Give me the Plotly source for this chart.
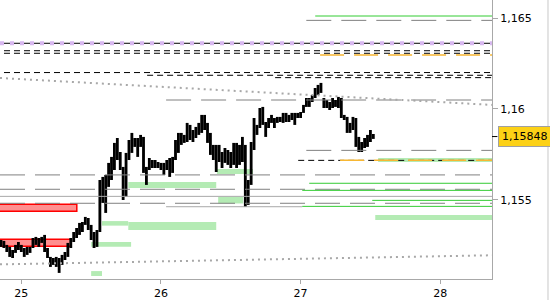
import plotly.graph_objects as go
import pandas as pd

# ---------------- price data (30-minute bars) ----------------
bar_times = pd.date_range("2021-06-24 20:30", periods=129, freq="30min")
bar_high = [
    1.15279, 1.15274, 1.15252, 1.15241, 1.15224, 1.15252, 1.15268, 1.15252, 1.15235, 1.15241,
    1.15241, 1.15290, 1.15296, 1.15290, 1.15296, 1.15307, 1.15235, 1.15186, 1.15180, 1.15186,
    1.15180, 1.15197, 1.15213, 1.15263, 1.15290, 1.15323, 1.15345, 1.15373, 1.15378, 1.15406,
    1.15400, 1.15362, 1.15323, 1.15334, 1.15609, 1.15626, 1.15637, 1.15703, 1.15736, 1.15813,
    1.15840, 1.15763, 1.15681, 1.15758, 1.15829, 1.15868, 1.15840, 1.15840, 1.15857, 1.15846,
    1.15681, 1.15730, 1.15719, 1.15719, 1.15708, 1.15703, 1.15703, 1.15719, 1.15730, 1.15736,
    1.15829, 1.15868, 1.15868, 1.15857, 1.15923, 1.15912, 1.15884, 1.15901, 1.15923, 1.15967,
    1.15967, 1.15923, 1.15868, 1.15802, 1.15802, 1.15802, 1.15763, 1.15785, 1.15774, 1.15763,
    1.15813, 1.15813, 1.15802, 1.15846, 1.15802, 1.15609, 1.15818, 1.15950, 1.15912, 1.16005,
    1.16011, 1.15928, 1.15950, 1.15967, 1.15950, 1.15956, 1.15956, 1.15978, 1.15978, 1.15967,
    1.15978, 1.15978, 1.15978, 1.15983, 1.16022, 1.16060, 1.16060, 1.16077, 1.16115, 1.16132,
    1.16143, 1.16060, 1.16049, 1.16038, 1.16060, 1.16049, 1.16066, 1.16060, 1.15967, 1.15956,
    1.15923, 1.15956, 1.15950, 1.15846, 1.15818, 1.15840, 1.15857, 1.15884, 1.15862,
]
bar_low = [
    1.15241, 1.15235, 1.15213, 1.15186, 1.15180, 1.15208, 1.15224, 1.15213, 1.15186, 1.15197,
    1.15208, 1.15235, 1.15252, 1.15241, 1.15263, 1.15213, 1.15180, 1.15131, 1.15142, 1.15131,
    1.15098, 1.15142, 1.15169, 1.15186, 1.15235, 1.15268, 1.15290, 1.15307, 1.15323, 1.15362,
    1.15334, 1.15279, 1.15235, 1.15241, 1.15323, 1.15483, 1.15428, 1.15571, 1.15609, 1.15664,
    1.15719, 1.15664, 1.15499, 1.15516, 1.15719, 1.15758, 1.15791, 1.15736, 1.15791, 1.15648,
    1.15582, 1.15664, 1.15675, 1.15675, 1.15675, 1.15664, 1.15637, 1.15664, 1.15626, 1.15648,
    1.15719, 1.15758, 1.15802, 1.15813, 1.15818, 1.15829, 1.15818, 1.15840, 1.15857, 1.15868,
    1.15884, 1.15813, 1.15747, 1.15719, 1.15653, 1.15708, 1.15675, 1.15703, 1.15692, 1.15675,
    1.15692, 1.15675, 1.15692, 1.15708, 1.15461, 1.15472, 1.15582, 1.15774, 1.15857, 1.15895,
    1.15912, 1.15846, 1.15895, 1.15923, 1.15895, 1.15923, 1.15928, 1.15923, 1.15928, 1.15928,
    1.15939, 1.15912, 1.15950, 1.15950, 1.15978, 1.16011, 1.16011, 1.16038, 1.16060, 1.16077,
    1.16088, 1.16005, 1.16005, 1.15994, 1.16005, 1.16011, 1.16005, 1.15950, 1.15939, 1.15868,
    1.15868, 1.15884, 1.15791, 1.15763, 1.15763, 1.15785, 1.15791, 1.15818, 1.15835,
]
last_close = 1.15848
last_close_label = "1,15848"

# ---------------- axes ----------------
x_start = "2021-06-24 20:20"
x_end = "2021-06-28 08:54"
y_min, y_max = 1.150645, 1.16599
x_tick_vals = ["2021-06-25", "2021-06-26", "2021-06-27", "2021-06-28"]
x_tick_text = ["25", "26", "27", "28"]
y_tick_vals = [1.155, 1.16, 1.165]
y_tick_text = ["1,155", "1,16", "1,165"]

# ---------------- horizontal levels ----------------
gray_dash_prices = [1.16487, 1.16049, 1.15772, 1.15637, 1.15558, 1.15481]
gray_dash_starts = ["2021-06-27 00:59", "2021-06-26 00:53", "2021-06-27 00:59", x_start, x_start, x_start]

black_dash_prices = [1.16361, 1.16320, 1.16306, 1.16200, 1.16185, 1.16172, 1.15717]
black_dash_starts = [x_start, x_start, x_start, x_start, "2021-06-25 20:56", "2021-06-26 18:56", "2021-06-26 22:54"]

lavender_dot_prices = [1.16361]

green_solid_prices = [1.16511, 1.15591, 1.15552, 1.15497, 1.15464]
green_solid_starts = ["2021-06-27 02:31", "2021-06-27 01:29", "2021-06-27 00:17", "2021-06-27 12:19", "2021-06-27 00:17"]

gray_solid_prices = [1.15519, 1.15462]
gray_solid_starts = [x_start, "2021-06-26 00:53"]
gray_solid_ends = [x_end, "2021-06-27 00:17"]

orange_prices = [1.16297, 1.15717]
orange_starts = ["2021-06-27 03:21", "2021-06-27 06:47"]

trend_upper = [1.16170, 1.16022]
trend_lower = [1.15145, 1.15195]

# ---------------- zones ----------------
green_zone_t0 = ["2021-06-25 18:23", "2021-06-26 09:37", "2021-06-26 09:50", "2021-06-25 13:52",
                 "2021-06-25 18:23", "2021-06-25 12:00", "2021-06-25 12:00", "2021-06-27 12:50",
                 "2021-06-27 13:20"]
green_zone_t1 = ["2021-06-26 09:30", "2021-06-26 15:49", "2021-06-26 14:08", "2021-06-25 18:22",
                 "2021-06-26 09:30", "2021-06-25 18:52", "2021-06-25 13:52", x_end, x_end]
green_zone_lo = [1.15565, 1.15642, 1.15480, 1.15358, 1.15334, 1.15242, 1.15081, 1.15389, 1.15708]
green_zone_hi = [1.15598, 1.15669, 1.15517, 1.15383, 1.15378, 1.15268, 1.15108, 1.15417, 1.15730]

red_zone_t0 = ["2021-06-24 18:00", "2021-06-24 18:00"]
red_zone_t1 = ["2021-06-25 09:32", "2021-06-25 08:35"]
red_zone_lo = [1.15437, 1.15244]
red_zone_hi = [1.15475, 1.15283]

FONT = "DejaVu Sans"
fig = go.Figure()

shapes = []
for t0, t1, lo, hi in zip(green_zone_t0, green_zone_t1, green_zone_lo, green_zone_hi):
    shapes.append(dict(type="rect", xref="x", yref="y", x0=t0, x1=t1, y0=lo, y1=hi,
                       fillcolor="#b4ebb4", line=dict(width=0), layer="below"))
for t0, t1, lo, hi in zip(red_zone_t0, red_zone_t1, red_zone_lo, red_zone_hi):
    shapes.append(dict(type="rect", xref="x", yref="y", x0=t0, x1=t1, y0=lo, y1=hi,
                       fillcolor="#ff8f8f", line=dict(color="#ff0000", width=1.5), layer="below"))


def hline(price, start, end, color, width, dash):
    fig.add_trace(go.Scatter(x=[start, end], y=[price, price], mode="lines",
                             line=dict(color=color, width=width, dash=dash),
                             hoverinfo="skip", showlegend=False))


for p, s in zip(gray_dash_prices, gray_dash_starts):
    hline(p, s, x_end, "#808080", 1, "25px,10px")
for p, s, e in zip(gray_solid_prices, gray_solid_starts, gray_solid_ends):
    hline(p, s, e, "#a8a8a8", 1, "solid")
for p in lavender_dot_prices:
    hline(p, x_start, x_end, "#d8b8f0", 4, "4px,6px")
for p, s in zip(black_dash_prices, black_dash_starts):
    hline(p, s, x_end, "#000000", 1, "0px,4px,6px,0px")
for p, s in zip(orange_prices, orange_starts):
    hline(p, s, x_end, "#f7b733", 1.5, "24px,10px")
for p, s in zip(green_solid_prices, green_solid_starts):
    hline(p, s, x_end, "#33cc33", 1, "solid")

for tr in (trend_upper, trend_lower):
    fig.add_trace(go.Scatter(x=[x_start, x_end], y=tr, mode="lines",
                             line=dict(color="#a8a8a8", width=2, dash="2px,4px"),
                             hoverinfo="skip", showlegend=False))

fig.add_trace(go.Bar(x=bar_times, y=[h - l for h, l in zip(bar_high, bar_low)], base=bar_low,
                     width=1.75e6, marker=dict(color="#000000", line=dict(width=0)),
                     hoverinfo="skip", showlegend=False))

# last price marker and label
shapes.append(dict(type="line", xref="paper", yref="y", x0=1.0, x1=1.011,
                   y0=last_close, y1=last_close, line=dict(color="#000000", width=1)))
shapes.append(dict(type="line", xref="paper", yref="paper", x0=1.1138, x1=1.1138,
                   y0=-0.08, y1=1.0, line=dict(color="#c8c8c8", width=1)))

fig.add_annotation(xref="paper", yref="y", x=1.0122, y=last_close, xanchor="left", yanchor="middle",
                   text=last_close_label, showarrow=False, font=dict(family=FONT, size=11, color="#000"),
                   bgcolor="#fcd116", bordercolor="#a0a0a0", borderwidth=1, borderpad=3)

fig.update_layout(
    width=550, height=300,
    margin=dict(l=0, r=58, t=0, b=21),
    plot_bgcolor="white", paper_bgcolor="white",
    showlegend=False, shapes=shapes,
    font=dict(family=FONT, size=11, color="#000"),
    xaxis=dict(type="date", range=[x_start, x_end], tickvals=x_tick_vals, ticktext=x_tick_text,
               showgrid=False, zeroline=False, showline=True, linecolor="#a8a8a8", linewidth=1,
               ticks="outside", ticklen=4, tickcolor="#a8a8a8", mirror=False,
               tickfont=dict(family=FONT, size=11, color="#000")),
    yaxis=dict(range=[y_min, y_max], side="right", tickvals=y_tick_vals, ticktext=y_tick_text,
               showgrid=False, zeroline=False, showline=True, linecolor="#a8a8a8", linewidth=1,
               ticks="outside", ticklen=5, tickcolor="#a8a8a8",
               tickfont=dict(family=FONT, size=11, color="#000")),
)

fig.write_html("out.html")
